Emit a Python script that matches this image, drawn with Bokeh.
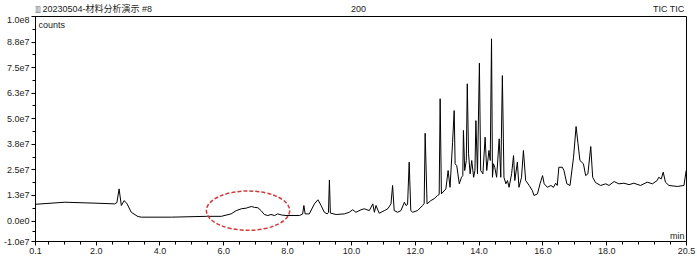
from bokeh.plotting import figure
from bokeh.models import Range1d, FixedTicker, Label
from bokeh.layouts import column
from bokeh.embed import file_html
from bokeh.resources import INLINE
import numpy as np

# ---------------- data ----------------
TIME_MIN = [0.10, 1.02, 2.06, 2.58, 2.65, 2.72, 2.79, 2.88, 2.97, 3.10, 3.31, 3.42, 4.36, 5.45,
            5.92, 6.23, 6.39, 6.55, 6.70, 6.86, 6.96, 7.07, 7.17, 7.27, 7.38, 7.48, 7.59, 7.69,
            7.80, 7.95, 8.37, 8.47, 8.51, 8.55, 8.68, 8.84, 8.95, 9.05, 9.15, 9.24, 9.28, 9.31,
            9.34, 9.52, 9.78, 9.93, 10.04, 10.14, 10.30, 10.40, 10.56, 10.67, 10.72, 10.77, 10.87,
            11.03, 11.14, 11.24, 11.29, 11.34, 11.45, 11.55, 11.66, 11.71, 11.76, 11.81, 11.86,
            11.92, 12.07, 12.23, 12.28, 12.31, 12.37, 12.49, 12.59, 12.70, 12.75, 12.78, 12.82,
            12.96, 13.03, 13.09, 13.17, 13.22, 13.25, 13.30, 13.38, 13.45, 13.49, 13.51, 13.55,
            13.60, 13.63, 13.67, 13.72, 13.77, 13.83, 13.87, 13.90, 13.95, 14.01, 14.05, 14.12,
            14.19, 14.24, 14.31, 14.35, 14.39, 14.42, 14.45, 14.49, 14.55, 14.63, 14.68, 14.73,
            14.78, 14.84, 14.89, 14.94, 15.02, 15.08, 15.12, 15.20, 15.25, 15.33, 15.39, 15.46,
            15.57, 15.67, 15.72, 15.83, 15.91, 15.99, 16.04, 16.14, 16.25, 16.33, 16.40, 16.45,
            16.50, 16.61, 16.66, 16.75, 16.85, 16.96, 17.04, 17.10, 17.16, 17.27, 17.34, 17.41,
            17.50, 17.56, 17.65, 17.81, 17.97, 18.07, 18.23, 18.38, 18.54, 18.70, 18.85, 19.06,
            19.27, 19.43, 19.58, 19.63, 19.71, 19.77, 19.84, 19.95, 20.21, 20.42, 20.49]

# intensity in millions of counts
COUNTS_M = [8.2, 9.2, 8.7, 8.4, 9.0, 15.7, 7.6, 10.0, 8.4, 4.3, 2.2, 1.9, 1.9, 2.3,
            2.3, 3.5, 5.1, 6.0, 6.3, 7.1, 6.7, 6.5, 5.1, 3.2, 2.7, 3.2, 2.7, 3.5,
            3.0, 2.7, 2.7, 3.4, 7.6, 3.5, 3.5, 8.4, 10.4, 7.6, 4.3, 3.5, 4.2, 20.1,
            3.9, 3.2, 3.5, 4.3, 5.5, 4.3, 5.5, 6.0, 5.1, 8.4, 4.3, 7.6, 3.8,
            5.1, 6.0, 8.4, 17.4, 5.1, 4.3, 5.1, 9.2, 7.6, 8.1, 28.8, 5.1,
            4.3, 5.1, 7.6, 8.6, 42.9, 8.4, 10.0, 10.9, 12.5, 13.0, 59.8, 13.3,
            15.7, 24.7, 16.5, 38.5, 54.0, 28.0, 27.1, 18.2, 21.4, 22.2, 44.3, 24.7,
            29.6, 67.1, 32.9, 23.1, 29.6, 21.4, 24.7, 49.1, 23.1, 77.2, 24.7, 23.1,
            41.0, 24.7, 34.5, 29.6, 89.1, 21.4, 28.0, 26.3, 21.4, 40.2, 21.4, 71.1,
            21.4, 18.2, 19.8, 16.5, 23.1, 32.0, 19.8, 28.8, 16.5, 21.4, 34.5, 19.8,
            17.4, 14.9, 12.5, 13.3, 18.2, 22.2, 18.2, 16.5, 17.4, 16.5, 18.5, 17.4,
            26.3, 26.3, 24.7, 18.2, 17.4, 31.2, 46.2, 37.8, 29.6, 28.0, 22.2, 23.1,
            36.4, 21.4, 18.8, 17.4, 18.2, 17.4, 19.3, 18.2, 18.5, 17.8, 18.5, 17.4,
            19.0, 18.2, 19.8, 21.4, 20.6, 23.9, 19.0, 17.4, 16.9, 17.4, 24.7]

X_TICKS = [0.1, 2.0, 4.0, 6.0, 8.0, 10.0, 12.0, 14.0, 16.0, 18.0, 20.5]
X_LABELS = ["0.1", "2.0", "4.0", "6.0", "8.0", "10.0", "12.0", "14.0", "16.0", "18.0", "20.5"]
X_MINOR = [0.5, 1.0, 1.5, 2.5, 3.0, 3.5, 4.5, 5.0, 5.5, 6.5, 7.0, 7.5, 8.5, 9.0, 9.5,
           10.5, 11.0, 11.5, 12.5, 13.0, 13.5, 14.5, 15.0, 15.5, 16.5, 17.0, 17.5,
           18.5, 19.0, 19.5, 20.0]

Y_TICKS = [-1.0e7, 0.0, 1.25e7, 2.5e7, 3.75e7, 5.0e7, 6.25e7, 7.5e7, 8.75e7, 1.0e8]
Y_LABELS = ["-1.0e7", "0.0e0", "1.3e7", "2.5e7", "3.8e7", "5.0e7", "6.3e7", "7.5e7", "8.8e7", "1.0e8"]
Y_MINOR = [-5.0e6, 6.25e6, 1.875e7, 3.125e7, 4.375e7, 5.625e7, 6.875e7, 8.125e7, 9.375e7]

# highlighted region (ellipse)
ELLIPSE_X = 6.76
ELLIPSE_Y = 5.1e6
ELLIPSE_W = 2.61
ELLIPSE_H = 1.92e7

TITLE_TEXT = "20230504-材料分析演示 #8"
MID_TEXT = "200"
RIGHT_TEXT = "TIC TIC"
Y_UNIT = "counts"
X_UNIT = "min"

FONT = "'Liberation Sans', 'Noto Sans CJK SC', sans-serif"
TEXT_COLOR = "#222222"

# ---------------- header strip (frame aligned with the chart frame) ----------------
head = figure(width=697, height=16, output_backend="svg", toolbar_location=None,
              x_range=Range1d(0, 1), y_range=Range1d(0, 1),
              x_axis_type=None, y_axis_type=None,
              min_border_left=34, min_border_right=11, min_border_top=0, min_border_bottom=0)
head.outline_line_color = None
head.background_fill_color = "white"
head.border_fill_color = "white"
head.xgrid.visible = False
head.ygrid.visible = False


def lab(fig, x, y, text, align="left", size="9px", color=TEXT_COLOR, font=FONT):
    fig.add_layout(Label(x=x, y=y, x_units="screen", y_units="screen", text=text,
                         text_align=align, text_baseline="middle", text_font=font,
                         text_font_size=size, text_color=color))


lab(head, -3, 8, "▥", size="9px", color="#777777", font="DejaVu Sans")
lab(head, 7, 8, TITLE_TEXT)
lab(head, 323, 8, MID_TEXT, align="center")
lab(head, 649, 8, RIGHT_TEXT, align="right")

# ---------------- main chart ----------------
p = figure(width=697, height=242, output_backend="svg", toolbar_location=None,
           x_range=Range1d(0.1, 20.5), y_range=Range1d(-1.0e7, 1.0e8),
           min_border_left=34, min_border_right=11, min_border_top=0, min_border_bottom=17)
p.background_fill_color = "white"
p.border_fill_color = "white"
p.outline_line_color = "black"
p.outline_line_width = 1
p.xgrid.visible = False
p.ygrid.visible = False

for ax, ticks, minor, labels in ((p.xaxis[0], X_TICKS, X_MINOR, X_LABELS),
                                 (p.yaxis[0], Y_TICKS, Y_MINOR, Y_LABELS)):
    ax.ticker = FixedTicker(ticks=ticks, minor_ticks=minor)
    ax.major_label_overrides = {t: l for t, l in zip(ticks, labels)}
    ax.axis_line_color = "black"
    ax.major_tick_line_color = "black"
    ax.minor_tick_line_color = "black"
    ax.major_tick_in = 0
    ax.major_tick_out = 4
    ax.minor_tick_in = 0
    ax.minor_tick_out = 3
    ax.major_label_text_font = FONT
    ax.major_label_text_font_size = "9px"
    ax.major_label_text_color = TEXT_COLOR
    ax.major_label_standoff = 2

p.line(x=TIME_MIN, y=np.array(COUNTS_M) * 1e6, line_color="black", line_width=1)

p.ellipse(x=[ELLIPSE_X], y=[ELLIPSE_Y], width=[ELLIPSE_W], height=[ELLIPSE_H],
          fill_color=None, line_color="#d23a3a", line_width=1.5, line_dash="4 2")

FW, FH = 652, 225
lab(p, 3, FH - 8, Y_UNIT)
lab(p, FW - 3, 6, X_UNIT, align="right")

layout = column(head, p, spacing=0)
open("out.html", "w").write(file_html(layout, INLINE))
